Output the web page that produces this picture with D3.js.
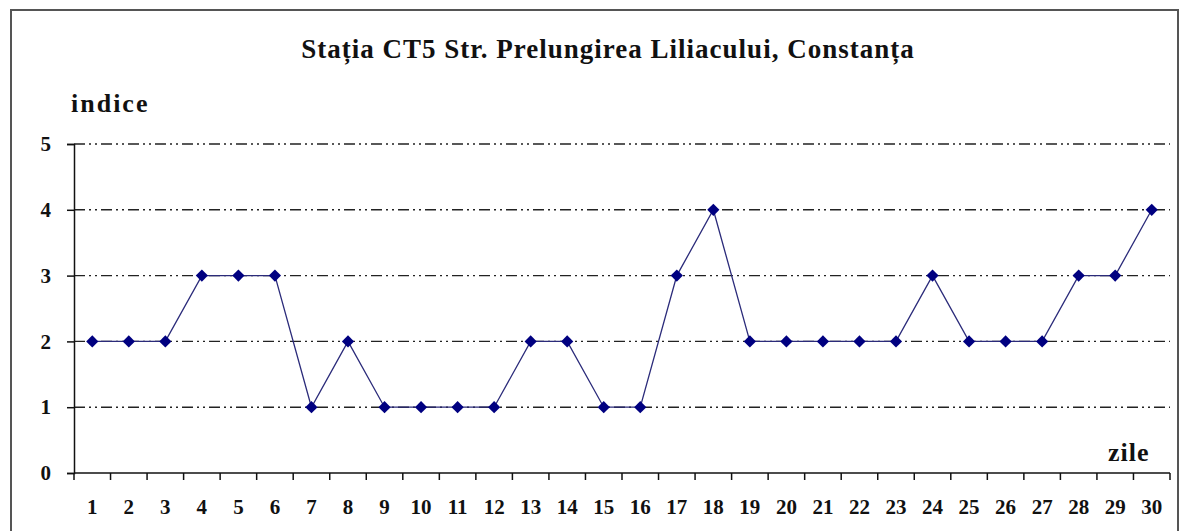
<!DOCTYPE html>
<html>
<head>
<meta charset="utf-8">
<script src="https://cdn.jsdelivr.net/npm/d3@7"></script>
<style>
  body { margin: 0; background: #fff; }
  svg text { font-family: 'Liberation Serif', 'Times New Roman', serif; font-weight: bold; }
</style>
</head>
<body>
<div id="chart"></div>
<script>
const days = d3.range(1, 31).map(String)
const indice = [2, 2, 2, 3, 3, 3, 1, 2, 1, 1, 1, 1, 2, 2, 1, 1, 3, 4, 2, 2, 2, 2, 2, 3, 2, 2, 2, 3, 3, 4]
const yTicks = [0, 1, 2, 3, 4, 5]
const title = 'Stația CT5  Str. Prelungirea Liliacului, Constanța'

const W = 1188
const H = 531
const plot = { left: 74, right: 1170, top: 144, bottom: 473 }

const svg = d3.select('#chart')
  .append('svg')
  .attr('width', W)
  .attr('height', H)

// outer frame (no bottom edge, it is cut off)
svg.append('path')
  .attr('d', `M11,${H} V10 H1178 V${H}`)
  .attr('fill', 'none')
  .attr('stroke', '#555')
  .attr('stroke-width', 2)

const x = d3.scaleBand(days, [plot.left, plot.right])
const y = d3.scaleLinear([0, 5], [plot.bottom, plot.top])

// gridlines, dash-dot-dot
svg.append('g')
  .selectAll('line')
  .data(yTicks.filter(d => d > 0))
  .join('line')
  .attr('x1', plot.left)
  .attr('x2', plot.right)
  .attr('y1', d => y(d))
  .attr('y2', d => y(d))
  .attr('stroke', '#222')
  .attr('stroke-width', 1.4)
  .attr('stroke-dasharray', '11,4,2,4,2,4')

// y axis
const yAxis = svg.append('g')
  .attr('transform', `translate(${plot.left},0)`)
  .call(d3.axisLeft(y).tickValues(yTicks).tickSize(7).tickPadding(16).tickFormat(d3.format('d')))
yAxis.select('.domain').attr('stroke', '#111').attr('stroke-width', 1.5)
yAxis.selectAll('.tick line').attr('stroke', '#111').attr('stroke-width', 1.5)
yAxis.selectAll('text')
  .attr('fill', '#111')
  .attr('font-family', 'Liberation Serif, serif')
  .attr('font-weight', 'bold')
  .attr('font-size', 21)

// x axis: ticks at band edges
const xAxis = svg.append('g')
  .attr('transform', `translate(0,${plot.bottom})`)
xAxis.append('line')
  .attr('x1', plot.left)
  .attr('x2', plot.right)
  .attr('stroke', '#111')
  .attr('stroke-width', 1.5)
xAxis.selectAll('.edge')
  .data(days.concat(['end']))
  .join('line')
  .attr('class', 'edge')
  .attr('x1', d => d === 'end' ? plot.right : x(d))
  .attr('x2', d => d === 'end' ? plot.right : x(d))
  .attr('y1', 0)
  .attr('y2', 7)
  .attr('stroke', '#111')
  .attr('stroke-width', 1.5)
xAxis.selectAll('text')
  .data(days)
  .join('text')
  .attr('x', d => x(d) + x.bandwidth() / 2)
  .attr('y', 41)
  .attr('text-anchor', 'middle')
  .attr('fill', '#111')
  .style('font-size', '21px')
  .text(d => d)

// series line and markers
const cx = (d, i) => x(days[i]) + x.bandwidth() / 2
svg.append('path')
  .datum(indice)
  .attr('fill', 'none')
  .attr('stroke', '#2b2b7a')
  .attr('stroke-width', 1.3)
  .attr('d', d3.line().x(cx).y(d => y(d)))

svg.append('g')
  .selectAll('path')
  .data(indice)
  .join('path')
  .attr('transform', (d, i) => `translate(${cx(d, i)},${y(d)})`)
  .attr('d', d3.symbol(d3.symbolDiamond2, 95))
  .attr('fill', '#000080')

// titles
svg.append('text')
  .attr('x', 608)
  .attr('y', 58)
  .attr('text-anchor', 'middle')
  .attr('fill', '#111')
  .style('font-size', '27px')
  .style('letter-spacing', '1px')
  .text(title)

svg.append('text')
  .attr('x', 71)
  .attr('y', 112)
  .attr('fill', '#111')
  .style('font-size', '26px')
  .style('letter-spacing', '2px')
  .text('indice')

svg.append('text')
  .attr('x', 1108)
  .attr('y', 461)
  .attr('fill', '#111')
  .style('font-size', '26px')
  .style('letter-spacing', '1px')
  .text('zile')
</script>
</body>
</html>
